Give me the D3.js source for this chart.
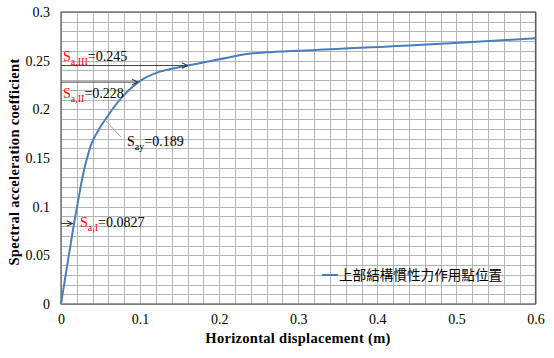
<!DOCTYPE html>
<html><head><meta charset="utf-8">
<script src="https://cdn.jsdelivr.net/npm/d3@7"></script>
<style>
body{margin:0;background:#fff;}
svg{display:block;}
</style></head>
<body>
<svg id="chart" width="554" height="358"></svg>
<script>
// Data
const dispX = [0, 0.0165, 0.0223, 0.0274, 0.0328, 0.039, 0.0476, 0.0556, 0.0766, 0.0997, 0.125, 0.16, 0.20, 0.235, 0.26, 0.44, 0.6];
const accY  = [0, 0.0827, 0.109, 0.131, 0.1495, 0.1655, 0.1790, 0.189, 0.212, 0.229, 0.2387, 0.245, 0.2514, 0.2569, 0.2586, 0.2655, 0.273];
const xTicks = [0, 0.1, 0.2, 0.3, 0.4, 0.5, 0.6];
const yTicks = [0, 0.05, 0.1, 0.15, 0.2, 0.25, 0.3];
const seriesName = "上部結構慣性力作用點位置";
const annoLevels = [
  {sub:"a,III", val:"0.245", y:0.245, xHit:0.160},
  {sub:"a,II",  val:"0.228", y:0.228, xHit:0.097},
  {sub:"a,I",   val:"0.0827", y:0.0827, xHit:0.0145}
];
const sayPoint = {x:0.0556, y:0.189, label:"0.189"};

const svg = d3.select("#chart");
const L=61, R=535.5, T=12, B=304;
const x = d3.scaleLinear().domain([0,0.6]).range([L,R]);
const y = d3.scaleLinear().domain([0,0.3]).range([B,T]);

// grid
const g = svg.append("g");
d3.range(0, 0.6001, 0.02).forEach(v=>{
  g.append("line").attr("x1",Math.round(x(v))+0.5).attr("x2",Math.round(x(v))+0.5)
   .attr("y1",T).attr("y2",B).attr("stroke","#b4b4b4").attr("stroke-width",1);
});
d3.range(0, 0.3001, 0.01).forEach(v=>{
  g.append("line").attr("y1",Math.round(y(v))+0.5).attr("y2",Math.round(y(v))+0.5)
   .attr("x1",L).attr("x2",R).attr("stroke","#b4b4b4").attr("stroke-width",1);
});
// frame
svg.append("rect").attr("x",L).attr("y",T).attr("width",R-L).attr("height",B-T)
  .attr("fill","none").attr("stroke","#5a5a5a").attr("stroke-width",1.2);

// axes
const fontSerif = "'Liberation Serif','Times New Roman',serif";
const xa = svg.append("g").attr("transform",`translate(0,${B})`)
  .call(d3.axisBottom(x).tickValues(xTicks).tickSize(0).tickPadding(10).tickFormat(d3.format("")));
xa.select(".domain").remove();
xa.selectAll("text").attr("font-family",fontSerif).attr("font-size",14).attr("fill","#000");
const ya = svg.append("g").attr("transform",`translate(${L},0)`)
  .call(d3.axisLeft(y).tickValues(yTicks).tickSize(0).tickPadding(11).tickFormat(d3.format("")));
ya.select(".domain").remove();
ya.selectAll("text").attr("font-family",fontSerif).attr("font-size",14).attr("fill","#000");

// axis titles
svg.append("text").attr("x",298).attr("y",343).attr("text-anchor","middle")
  .attr("font-family",fontSerif).attr("font-weight","bold").attr("font-size",14.5)
  .attr("letter-spacing",0.3)
  .text("Horizontal displacement (m)");
svg.append("text").attr("transform","translate(19,162) rotate(-90)").attr("text-anchor","middle")
  .attr("font-family",fontSerif).attr("font-weight","bold").attr("font-size",14.5)
  .attr("letter-spacing",0.3)
  .text("Spectral acceleration coefficient");

// curve
const pts = dispX.map((d,i)=>[d,accY[i]]);
svg.append("path").datum(pts)
  .attr("d", d3.line().x(d=>x(d[0])).y(d=>y(d[1])).curve(d3.curveCatmullRom.alpha(0.5)))
  .attr("fill","none").attr("stroke","#4a7ebb").attr("stroke-width",2);

// arrow marker
const defs = svg.append("defs");
defs.append("marker").attr("id","arr").attr("viewBox","0 0 10 10").attr("refX",9).attr("refY",5)
  .attr("markerWidth",7).attr("markerHeight",7).attr("orient","auto")
  .append("path").attr("d","M1,1 L9,5 L1,9").attr("fill","none").attr("stroke","#333").attr("stroke-width",1.5);

annoLevels.forEach(a=>{
  svg.append("line").attr("x1",x(0)).attr("x2",x(a.xHit)).attr("y1",y(a.y)).attr("y2",y(a.y))
    .attr("stroke","#404040").attr("stroke-width",1).attr("marker-end","url(#arr)");
});

function label(px, py, sub, val){
  const t = svg.append("text").attr("x",px).attr("y",py)
    .attr("font-family",fontSerif).attr("font-size",14);
  t.append("tspan").attr("fill","#ff0000").text("S");
  t.append("tspan").attr("fill","#ff0000").attr("font-size",10).attr("dy",4).text(sub);
  t.append("tspan").attr("fill","#000").attr("dy",-4).text("="+val);
}
label(63, 61, annoLevels[0].sub, annoLevels[0].val);
label(63, 98, annoLevels[1].sub, annoLevels[1].val);
label(80, 227, annoLevels[2].sub, annoLevels[2].val);

// S_ay pointer
svg.append("line").attr("x1",x(sayPoint.x)+1).attr("y1",y(sayPoint.y)+1).attr("x2",121).attr("y2",137)
  .attr("stroke","#8fa8c8").attr("stroke-width",1);
const ts = svg.append("text").attr("x",127).attr("y",146).attr("font-family",fontSerif).attr("font-size",14).attr("fill","#000");
ts.append("tspan").text("S");
ts.append("tspan").attr("font-size",10).attr("dy",4).text("ay");
ts.append("tspan").attr("dy",-4).text("="+sayPoint.label);

// legend
svg.append("line").attr("x1",322).attr("x2",338).attr("y1",275).attr("y2",275)
  .attr("stroke","#4a7ebb").attr("stroke-width",2);
svg.append("text").attr("x",339).attr("y",280).attr("font-family","'Noto Sans CJK TC','Noto Sans CJK SC',sans-serif")
  .attr("font-size",13.6).attr("fill","#000").text(seriesName);
</script>
</body></html>
